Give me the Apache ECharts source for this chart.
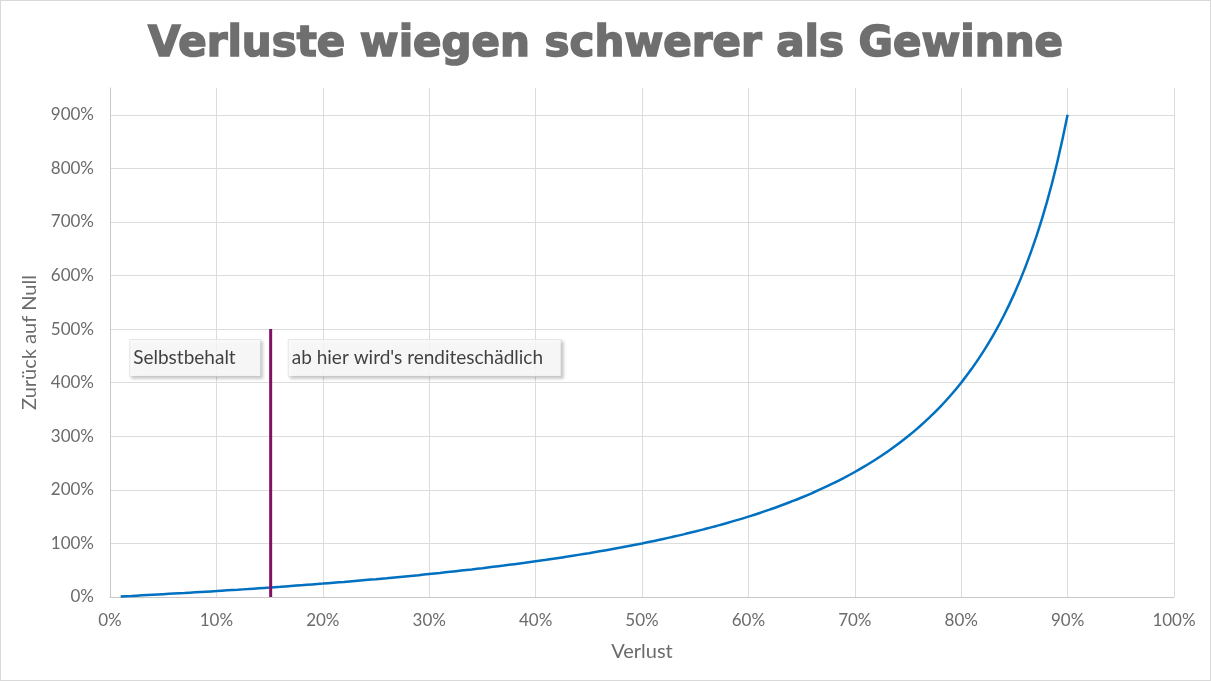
<!DOCTYPE html>
<html><head><meta charset="utf-8">
<script src="https://cdn.jsdelivr.net/npm/echarts@6/dist/echarts.min.js"></script>
<style>
html,body{margin:0;padding:0;background:#fff;}
#c{width:1211px;height:681px;box-sizing:border-box;border:1px solid #d9d9d9;}
</style></head><body>
<div id="c"></div>
<script>
const titleText = 'Verluste wiegen schwerer als Gewinne';
const xName = 'Verlust';
const yName = 'Zurück auf Null';
// Verlust (%) and Zurück auf Null (%)
const lossPct = [1,2,3,4,5,6,7,8,9,10,11,12,13,14,15,16,17,18,19,20,21,22,23,24,25,26,27,28,29,30,
  31,32,33,34,35,36,37,38,39,40,41,42,43,44,45,46,47,48,49,50,51,52,53,54,55,56,57,58,59,60,
  61,62,63,64,65,66,67,68,69,70,71,72,73,74,75,76,77,78,79,80,81,82,83,84,85,86,87,88,89,90];
const recoverPct = [1.0,2.0,3.1,4.2,5.3,6.4,7.5,8.7,9.9,11.1,12.4,13.6,14.9,16.3,17.6,19.0,20.5,22.0,23.5,25.0,
  26.6,28.2,29.9,31.6,33.3,35.1,37.0,38.9,40.8,42.9,44.9,47.1,49.3,51.5,53.8,56.3,58.7,61.3,63.9,66.7,
  69.5,72.4,75.4,78.6,81.8,85.2,88.7,92.3,96.1,100.0,104.1,108.3,112.8,117.4,122.2,127.3,132.6,138.1,143.9,150.0,
  156.4,163.2,170.3,177.8,185.7,194.1,203.0,212.5,222.6,233.3,244.8,257.1,270.4,284.6,300.0,316.7,334.8,354.5,376.2,400.0,
  426.3,455.6,488.2,525.0,566.7,614.3,669.2,733.3,809.1,900.0];
// Selbstbehalt threshold line
const thresholdX = [15.1, 15.1];
const thresholdY = [0, 500];
// annotation boxes: [x, y, text]
const noteX = [1.9, 16.8];
const noteY = [446, 446];
const noteText = ['Selbstbehalt', "ab hier wird's renditeschädlich"];
const noteWidth = [127, 269];

const chart = echarts.init(document.getElementById('c'));
const font = 'Lato, "Open Sans", sans-serif';
chart.setOption({
  animation: false,
  backgroundColor: '#fff',
  title: {
    text: titleText, left: 'center', top: 18,
    textStyle: {fontFamily: '"DejaVu Sans", sans-serif', fontWeight: 'bold', fontSize: 42, color: '#6f6f6f',
      textBorderColor: '#6f6f6f', textBorderWidth: 1.6}
  },
  grid: {left: 109, right: 36, top: 87, bottom: 83, containLabel: false},
  xAxis: {
    type: 'value', min: 0, max: 100, interval: 10,
    name: xName, nameLocation: 'middle', nameGap: 45,
    nameTextStyle: {fontFamily: font, fontSize: 20, color: '#6b6b6b'},
    axisLine: {show: true, lineStyle: {color: '#c8c8c8', width: 1}},
    axisTick: {show: false},
    axisLabel: {formatter: '{value}%', fontFamily: font, fontSize: 17, color: '#6b6b6b', margin: 15},
    splitLine: {show: true, lineStyle: {color: '#dcdcdc', width: 1}}
  },
  yAxis: {
    type: 'value', min: 0, max: 950, interval: 100,
    name: yName, nameLocation: 'middle', nameGap: 68,
    nameTextStyle: {fontFamily: font, fontSize: 20, color: '#6b6b6b'},
    axisLine: {show: true, lineStyle: {color: '#c8c8c8', width: 1}},
    axisTick: {show: false},
    axisLabel: {formatter: '{value}%', fontFamily: font, fontSize: 17, color: '#6b6b6b', margin: 16, showMaxLabel: false},
    splitLine: {show: true, showMaxLine: false, lineStyle: {color: '#dcdcdc', width: 1}}
  },
  series: [
    {
      type: 'line', data: lossPct.map((x, i) => [x, recoverPct[i]]),
      showSymbol: false, symbol: 'none', smooth: true,
      lineStyle: {color: '#0070c0', width: 2.5}, z: 3
    },
    {
      type: 'line', data: thresholdX.map((x, i) => [x, thresholdY[i]]),
      showSymbol: false, symbol: 'none',
      lineStyle: {color: '#841065', width: 3}, z: 4
    },
    {
      type: 'scatter', symbolSize: 0, silent: true, z: 5,
      data: noteX.map((x, i) => ({
        value: [x, noteY[i]],
        label: {
          show: true, position: 'right', distance: 0,
          formatter: noteText[i], width: noteWidth[i], height: 36, lineHeight: 36,
          padding: [0, 0, 0, 3], align: 'left',
          fontFamily: font, fontSize: 19, color: '#111',
          backgroundColor: '#fff', borderColor: '#e2e2e2', borderWidth: 1,
          shadowColor: 'rgba(0,0,0,0.22)', shadowBlur: 3, shadowOffsetX: 2, shadowOffsetY: 2
        }
      }))
    }
  ]
});
</script>
</body></html>
